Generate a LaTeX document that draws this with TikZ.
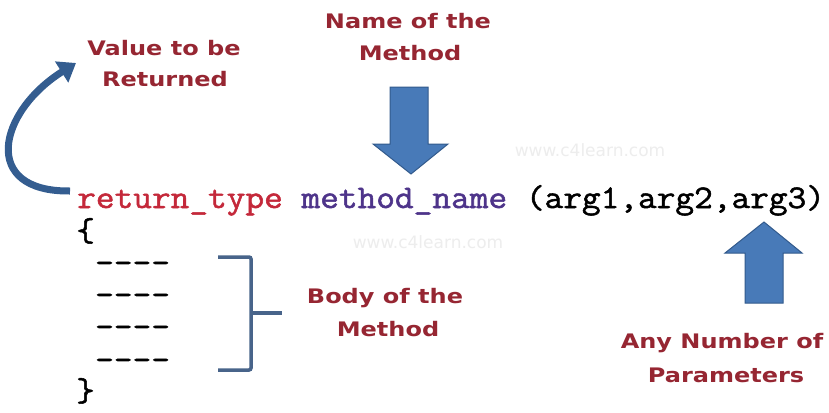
\documentclass[tikz,border=0pt]{standalone}
\usepackage{fontspec}
\setmainfont{DejaVu Sans}
\newfontfamily\lblfont[FakeStretch=1.2]{DejaVu Sans Bold}
\newfontfamily\codefont[FakeBold=1.6,FakeStretch=1.1]{Latin Modern Mono}
\newfontfamily\wmfont{DejaVu Sans}
\usetikzlibrary{arrows.meta}
\definecolor{lblred}{RGB}{150,38,50}
\definecolor{retred}{RGB}{196,40,58}
\definecolor{mnpurple}{RGB}{78,52,138}
\definecolor{arrblue}{RGB}{72,122,184}
\definecolor{arrdark}{RGB}{50,90,140}
\definecolor{brkblue}{RGB}{72,100,138}
\tikzset{
  lbl/.style={anchor=base, inner sep=0pt, text=lblred, font=\lblfont\fontsize{20}{24}\selectfont},
  code/.style={anchor=base west, inner sep=0pt, font=\codefont\fontsize{33}{36}\selectfont},
  blockarrow/.style={fill=arrblue, draw=arrdark, line width=1pt, line join=miter},
  wmark/.style={anchor=base, inner sep=0pt, text=black!7, font=\wmfont\fontsize{17}{20}\selectfont}
}
\begin{document}
\begin{tikzpicture}[x=1pt,y=-1pt]
\useasboundingbox (0,0) rectangle (829,412);
\fill[white] (0,0) rectangle (829,412);
% watermarks
\node[wmark] (wm1) at (590,156) {www.c4learn.com};
\node[wmark] (wm2) at (428,248) {www.c4learn.com};
% labels
\node[lbl] (val1) at (164,56) {Value to be};
\node[lbl] (val2) at (165,86) {Returned};
\node[lbl] (nam1) at (408,29) {Name of the};
\node[lbl] (nam2) at (410,60) {Method};
\node[lbl] (bod1) at (385,303) {Body of the};
\node[lbl] (bod2) at (388,336) {Method};
\node[lbl] (any1) at (722,348) {Any Number of};
\node[lbl] (any2) at (726,382) {Parameters};
% code
\node[code] (sig) at (77,208) {\textcolor{retred}{return\_type} \textcolor{mnpurple}{method\_name} (arg1,arg2,arg3)};
\node[code] (ob) at (76,241) {\{};
\node[code] (d1) at (95,273) {----};
\node[code] (d2) at (95,305) {----};
\node[code] (d3) at (95,337) {----};
\node[code] (d4) at (95,370) {----};
\node[code] (cb) at (76,401) {\}};
% curved arrow
\coordinate (cstart) at (70,191);
\coordinate (ctip) at (76,63);
\draw[arrdark!90!arrblue, line width=7pt, -{Triangle[width=24pt,length=17pt]}]
  (cstart) .. controls (-20,192) and (-2,112) .. (ctip);
% down arrow
\draw[blockarrow] (390,87) -- (428,87) -- (428,144) -- (448,144) -- (411,174) -- (373,144) -- (390,144) -- cycle;
% up arrow
\draw[blockarrow] (745,303) -- (783,303) -- (783,253) -- (802,253) -- (764,222) -- (725,253) -- (745,253) -- cycle;
% bracket
\draw[brkblue, line width=3.5pt, rounded corners=2pt] (218,257) -- (251,257) -- (251,370) -- (218,370);
\draw[brkblue, line width=3.5pt] (251,313) -- (282,313);
\end{tikzpicture}
\end{document}
